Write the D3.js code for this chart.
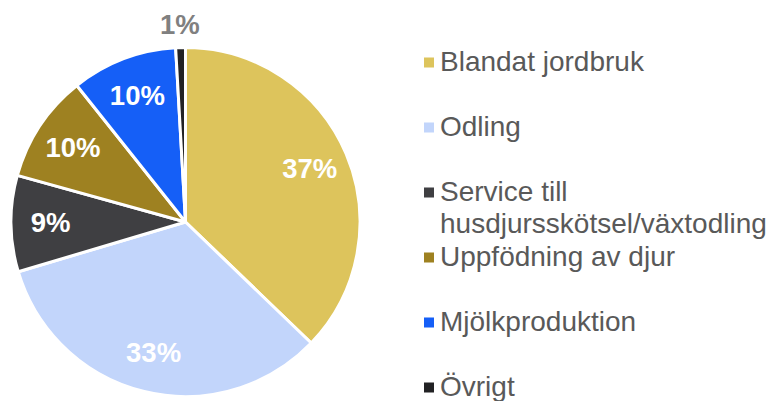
<!DOCTYPE html>
<html>
<head>
<meta charset="utf-8">
<script src="https://cdn.jsdelivr.net/npm/d3@7"></script>
<style>
  html, body { margin: 0; padding: 0; background: #fff; }
  svg { display: block; font-family: "Liberation Sans", Arial, sans-serif; }
</style>
</head>
<body>
<script>
var categories = ["Blandat jordbruk", "Odling", "Service till husdjursskötsel/växtodling",
                  "Uppfödning av djur", "Mjölkproduktion", "Övrigt"];
var values = [37.2, 33.2, 8.9, 10.0, 9.8, 0.9];
var valueLabels = ["37%", "33%", "9%", "10%", "10%", "1%"];
var colors = ["#ddc45c", "#c2d5fb", "#3f3f42", "#9e8121", "#155ff7", "#222224"];
// legend text, split into lines
var legendLines = [["Blandat jordbruk"], ["Odling"], ["Service till", "husdjursskötsel/växtodling"],
                   ["Uppfödning av djur"], ["Mjölkproduktion"], ["Övrigt"]];

var width = 768, height = 401;
var svg = d3.select("body").append("svg")
    .attr("width", width)
    .attr("height", height);

var cx = 185.5, cy = 222, radius = 174.5;

var data = categories.map(function(c, i) {
  return { name: c, value: values[i], label: valueLabels[i], color: colors[i] };
});

var pie = d3.pie()
    .sort(null)
    .value(function(d) { return d.value; });

var arc = d3.arc().innerRadius(0).outerRadius(radius);
var labelArc = d3.arc().innerRadius(135).outerRadius(135);
var outerArc = d3.arc().innerRadius(197).outerRadius(197);

var g = svg.append("g")
    .attr("transform", "translate(" + cx + "," + cy + ")");

var arcs = pie(data);

g.selectAll("path")
    .data(arcs)
    .enter()
    .append("path")
    .attr("d", arc)
    .attr("fill", function(d) { return d.data.color; })
    .attr("stroke", "#fff")
    .attr("stroke-width", 3)
    .attr("stroke-linejoin", "round");

g.selectAll("text.val")
    .data(arcs)
    .enter()
    .append("text")
    .attr("class", "val")
    .attr("transform", function(d) {
      var small = d.data.value < 3;
      var p = small ? outerArc.centroid(d) : labelArc.centroid(d);
      return "translate(" + p[0] + "," + p[1] + ")";
    })
    .attr("dy", "0.33em")
    .attr("text-anchor", "middle")
    .style("font-size", "27.5px")
    .style("font-weight", "bold")
    .style("fill", function(d) { return d.data.value < 3 ? "#808080" : "#fff"; })
    .text(function(d) { return d.data.label; });

// legend
var legendX = 424, textX = 440, firstY = 62.5, step = 65, lineGap = 32;

var legend = svg.append("g");

var items = legend.selectAll("g")
    .data(data)
    .enter()
    .append("g")
    .attr("transform", function(d, i) { return "translate(0," + (firstY + i * step) + ")"; });

items.append("rect")
    .attr("x", legendX)
    .attr("y", -5)
    .attr("width", 10)
    .attr("height", 10)
    .attr("fill", function(d) { return d.color; });

items.append("text")
    .attr("x", textX)
    .attr("y", 8.5)
    .style("font-size", "28px")
    .style("fill", "#595959")
    .each(function(d, i) {
      var t = d3.select(this);
      legendLines[i].forEach(function(line, j) {
        t.append("tspan")
          .attr("x", textX)
          .attr("y", 8.5 + j * lineGap)
          .text(line);
      });
    });
</script>
</body>
</html>
